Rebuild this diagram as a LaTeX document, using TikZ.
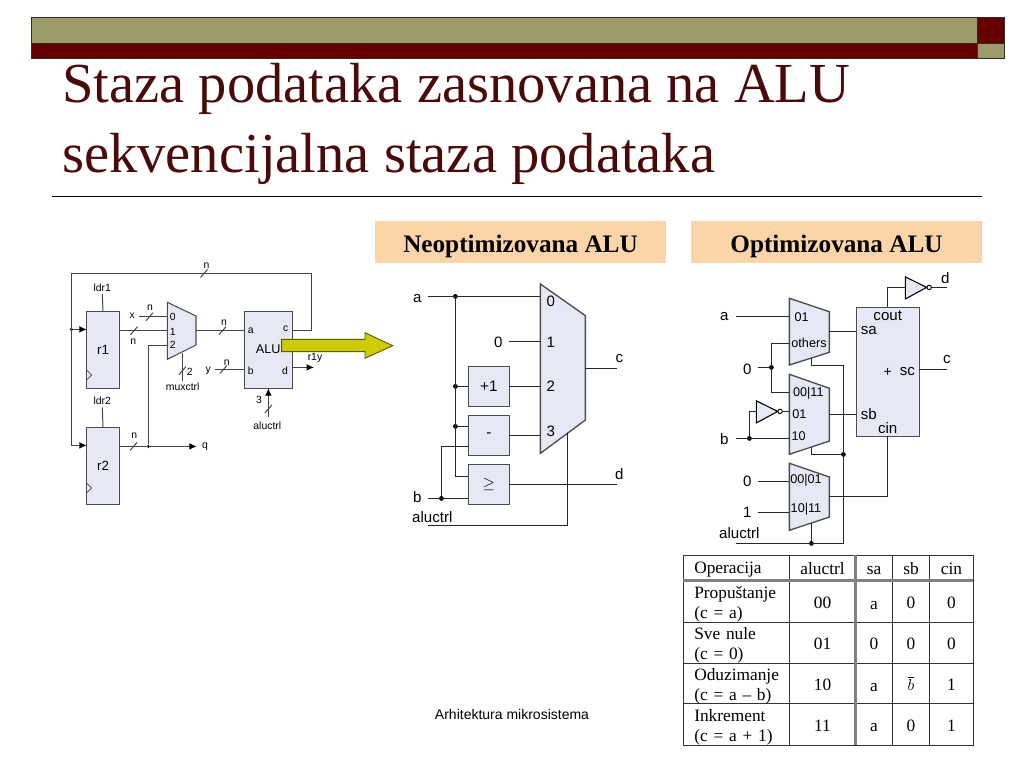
\documentclass[tikz,border=0pt]{standalone}
\usepackage{fontspec}
\setmainfont{Liberation Serif}
\newfontfamily\arial{Liberation Sans}
\usetikzlibrary{arrows.meta}
\definecolor{olive}{HTML}{9C9A68}
\definecolor{maroon}{HTML}{660000}
\definecolor{ttl}{HTML}{4A0A0A}
\definecolor{peach}{HTML}{FBD5A8}
\definecolor{lav}{HTML}{E6E9F5}
\definecolor{yel}{HTML}{CCCC00}
\definecolor{wl}{HTML}{454545}
\definecolor{tg}{HTML}{808080}
\newcounter{tn}
\newcommand\fs[1]{\fontsize{#1}{#1}\selectfont}
% text node: style, x, y, text
\newcommand\tx[4]{\stepcounter{tn}\node[#1] (t\arabic{tn}) at (#2,#3) {#4};}
% box node: style, name, x1,y1,x2,y2 and text
\newcommand\bxn[7]{\node[#1, minimum width={(#5-#3)*0.75pt}, minimum height={(#6-#4)*0.75pt}] (#2) at ({(#3+#5)/2},{(#4+#6)/2}) {#7};}
\newcommand\tick[2]{\draw[lw] (#1-3.5,#2+4) -- (#1+3.5,#2-4);}
\tikzset{
 x=0.75pt,y=-0.75pt,
 lw/.style={draw=wl,line width=0.75pt},
 arr/.style={lw,-{Latex[length=5.5pt,width=5pt,black]}},
 bw/.style={draw=black!85,line width=1pt},
 dotn/.style={circle,fill=black,inner sep=0pt,minimum size=3.6pt},
 sdot/.style={circle,fill=black,inner sep=0pt,minimum size=2.6pt},
 lbox/.style={draw=black!70,line width=0.7pt,fill=lav,inner sep=0pt,outer sep=0pt,font=\arial\fs{10}},
 mbox/.style={draw=black!70,line width=1pt,fill=lav,inner sep=0pt,outer sep=0pt,font=\arial\fs{11.5}},
 mux/.style={draw=black!70,line width=0.8pt,fill=lav},
 s7/.style={inner sep=0pt,font=\arial\fs{7.8}},
 s8/.style={inner sep=0pt,font=\arial\fs{9.5}},
 s11/.style={inner sep=0pt,font=\arial\fs{11.3}},
 s9/.style={inner sep=0pt,font=\arial\fs{10.5}},
 hdr/.style={fill=peach,inner sep=0pt,outer sep=0pt,font=\bfseries\fs{18.9},text height=15pt,text depth=0pt},
 tt/.style={inner sep=0pt,font=\fontsize{13}{15}\selectfont,text height=9pt,text depth=0pt},
 ttl2/.style={inner sep=0pt,font=\fontsize{13}{15}\selectfont,align=left,anchor=west,text width=85pt},
 title/.style={inner sep=0pt,anchor=base west,text=ttl,font=\fs{42.4}},
 tb/.style={draw=black!80,line width=0.7pt},
 tbg/.style={draw=tg,line width=2.2pt},
}
\begin{document}
\begin{tikzpicture}
\useasboundingbox (0,0) rectangle (1024,768);
\fill[white] (0,0) rectangle (1024,768);
% header bars
\draw[fill=olive,draw=black!70!olive,line width=0.6pt] (31,17) rectangle (977.5,43);
\draw[fill=maroon,draw=black!70!olive,line width=0.6pt] (31,43) rectangle (977.5,58);
\draw[fill=maroon,draw=black!70!olive,line width=0.6pt] (977.5,17) rectangle (1004,43);
\draw[fill=olive,draw=black!70!olive,line width=0.6pt] (977.5,43) rectangle (1004,58);
% title
\tx{title}{62}{102}{Staza podataka zasnovana na ALU}
\tx{title}{62}{172}{sekvencijalna staza podataka}
\draw[black,line width=0.75pt] (52,196) -- (982,196);
% column headers
\bxn{hdr}{hn}{375}{221}{666}{263}{Neoptimizovana ALU}
\bxn{hdr}{ho}{691}{221}{982}{263}{Optimizovana ALU}

%%%%%% left diagram
\bxn{lbox}{r1}{86.7}{311.7}{119.3}{388}{r1}
\bxn{lbox}{r2}{86.7}{427}{119.3}{504}{r2}
\bxn{lbox}{alu}{244.3}{311.7}{292.3}{388}{}
\draw[mux] (167.3,302.3) -- (196,316) -- (196,345) -- (167.3,359.3) -- cycle;
\draw[draw=black!70,line width=0.5pt] (86.7,370) -- (91.7,375) -- (86.7,380);
\draw[draw=black!70,line width=0.5pt] (86.7,483) -- (91.7,488) -- (86.7,493);
\coordinate (fbc) at (292.3,330.7);
\coordinate (fbr) at (311.4,330.7);
\coordinate (fbtr) at (311.4,273.4);
\coordinate (fbtl) at (71.4,273.4);
\coordinate (fbb) at (71.4,445.4);
\node[sdot] (fbd) at (71.4,329.4) {};
\coordinate (r1i) at (86.7,329.4);
\coordinate (r2i) at (86.7,445.4);
\draw[lw] (fbc) -- (fbr) -- (fbtr) -- (fbtl) -- (fbb);
\draw[arr] (fbd) -- (r1i);
\draw[arr] (fbb) -- (r2i);
\tick{204}{273.4}
\tx{s7}{206.5}{265.7}{n}
\coordinate (ldr1e) at (102.3,294);
\coordinate (ldr2e) at (102.3,407.3);
\draw[lw] (ldr1e) -- (r1.north);
\draw[lw] (ldr2e) -- (r2.north);
\tx{s7}{102.3}{287.7}{ldr1}
\tx{s7}{102.3}{401}{ldr2}
\coordinate (xs) at (138.5,316.7);
\coordinate (m0) at (167.3,316.7);
\draw[lw] (xs) -- (m0);
\tx{s7}{132.3}{315.7}{x}
\tick{149.5}{316.7}
\tx{s7}{150}{307.7}{n}
\coordinate (r1o) at (119.3,330.7);
\coordinate (m1) at (167.3,330.7);
\draw[lw] (r1o) -- (m1);
\tick{134}{330.7}
\tx{s7}{133.3}{341.7}{n}
\coordinate (r2o) at (119.3,446.4);
\node[sdot] (qd) at (148.4,446.4) {};
\coordinate (qe) at (196.7,446.4);
\coordinate (m2c) at (148.4,345.4);
\coordinate (m2) at (167.3,345.4);
\draw[arr] (r2o) -- (qe);
\draw[lw] (qd) -- (m2c) -- (m2);
\tick{133.5}{446.4}
\tx{s7}{134.3}{435.7}{n}
\tx{s7}{205}{446.7}{q}
\coordinate (mo) at (196,330.7);
\coordinate (alua) at (244.3,330.7);
\draw[lw] (mo) -- (alua);
\tick{222.5}{330.7}
\tx{s7}{224}{322.7}{n}
\coordinate (ys) at (215,369.4);
\coordinate (alub) at (244.3,369.4);
\draw[lw] (ys) -- (alub);
\tx{s7}{208.3}{370.7}{y}
\tick{223.5}{369.4}
\tx{s7}{226.7}{362.3}{n}
\coordinate (mc1) at (182.4,352.7);
\coordinate (mc2) at (182.4,381.3);
\draw[lw] (mc1) -- (mc2);
\tick{182.4}{370.7}
\tx{s7}{189.7}{371.7}{2}
\tx{s7}{182.7}{386.8}{muxctrl}
\tx{s7}{172.7}{317.3}{0}
\tx{s7}{172.7}{331.7}{1}
\tx{s7}{172.7}{345}{2}
\tx{s7}{250.7}{330.7}{a}
\tx{s7}{250.7}{370.7}{b}
\tx{s7}{285.7}{328.7}{c}
\tx{s7}{285}{370.7}{d}
\tx{inner sep=0pt,font=\arial\fs{9.5}}{268.3}{349}{ALU}
\coordinate (dos) at (292.3,367.4);
\coordinate (doe) at (314,367.4);
\draw[arr] (dos) -- (doe);
\tx{s7}{315}{358.3}{r1y}
\coordinate (acs) at (268.4,416.7);
\coordinate (ace) at (268.4,388.3);
\draw[arr] (acs) -- (ace);
\tick{268.4}{409}
\tx{s7}{259}{400}{3}
\tx{s7}{267.3}{425.7}{aluctrl}
% big arrow
\draw[fill=yel,draw=black!55!yel,line width=0.7pt] (281.7,339.3) -- (365,339.3) -- (365,332.7) -- (392.7,345.7) -- (365,358.3) -- (365,351.7) -- (281.7,351.7) -- cycle;

%%%%%% middle diagram
\draw[mux,line width=1pt] (540.4,284) -- (585.4,315.7) -- (585.4,420) -- (540.4,453.3) -- cycle;
\bxn{mbox}{inc}{468.4}{366.4}{509.4}{406.4}{+1}
\bxn{mbox}{sub}{468.4}{415.4}{509.4}{455.4}{-}
\node[mbox,minimum width={41*0.75pt},minimum height={40*0.75pt},font=\fs{12}] (cmp) at (488.9,484.4) {$\geq$};
\coordinate (as) at (428.3,296.4);
\node[dotn] (ad) at (455.4,296.4) {};
\coordinate (mm0) at (540.4,296.4);
\coordinate (zs) at (509.4,341.4);
\coordinate (mm1) at (540.4,341.4);
\coordinate (mm2) at (540.4,386.4);
\coordinate (mm3) at (540.4,435.4);
\node[dotn] (d2) at (455.4,386.4) {};
\node[dotn] (d3) at (455.4,426.4) {};
\coordinate (vb) at (455.4,476.4);
\coordinate (cmpa) at (468.4,476.4);
\coordinate (inci) at (468.4,386.4);
\coordinate (subi) at (468.4,426.4);
\coordinate (inco) at (509.4,386.4);
\coordinate (subo) at (509.4,435.4);
\coordinate (cmpo) at (509.4,484.4);
\coordinate (de) at (616.7,484.4);
\coordinate (bs) at (428.3,498.4);
\node[dotn] (bd) at (441.4,498.4) {};
\coordinate (cmpb) at (468.4,498.4);
\coordinate (bt) at (441.4,446.4);
\coordinate (subb) at (468.4,446.4);
\coordinate (acs2) at (428.3,525.4);
\coordinate (acc2) at (567.4,525.4);
\coordinate (ace2) at (567.4,433.3);
\coordinate (mco) at (585.4,368.4);
\coordinate (ce) at (616.7,368.4);
\draw[bw] (as) -- (mm0);
\draw[bw] (ad) -- (vb) -- (cmpa);
\draw[bw] (zs) -- (mm1);
\draw[bw] (d2) -- (inci);
\draw[bw] (d3) -- (subi);
\draw[bw] (inco) -- (mm2);
\draw[bw] (subo) -- (mm3);
\draw[bw] (cmpo) -- (de);
\draw[bw] (bs) -- (cmpb);
\draw[bw] (bd) -- (bt) -- (subb);
\draw[bw] (acs2) -- (acc2) -- (ace2);
\draw[bw] (mco) -- (ce);
\tx{s11}{417.3}{298.3}{a}
\tx{s11}{498.3}{342.3}{0}
\tx{s11}{417.3}{496.7}{b}
\tx{s11}{432.3}{516.7}{aluctrl}
\tx{s11}{619.3}{359}{c}
\tx{s11}{619.3}{474.3}{d}
\tx{s11}{550.7}{301}{0}
\tx{s11}{550.7}{342.3}{1}
\tx{s11}{550.7}{386.7}{2}
\tx{s11}{550.7}{431.7}{3}

%%%%%% right diagram
\draw[mux,line width=1pt] (789.4,298.3) -- (829.4,311.7) -- (829.4,352.3) -- (789.4,365) -- cycle;
\draw[mux,line width=1pt] (789.4,374.3) -- (829.4,388.3) -- (829.4,441) -- (789.4,454.3) -- cycle;
\draw[mux,line width=1pt] (789.4,463.3) -- (829.4,477) -- (829.4,517) -- (789.4,530.3) -- cycle;
\bxn{mbox}{add}{856.4}{307.4}{919.4}{436.4}{}
\coordinate (ra) at (735.7,316.4);
\coordinate (ma0) at (789.4,316.4);
\coordinate (z1s) at (758.3,367.4);
\node[dotn] (z1d) at (771.4,367.4) {};
\coordinate (vt) at (771.4,343.4);
\coordinate (mao) at (789.4,343.4);
\coordinate (vbb) at (771.4,392.4);
\coordinate (mb0) at (789.4,392.4);
\coordinate (rb) at (735.7,438.4);
\node[dotn] (rbd) at (749.4,438.4) {};
\coordinate (mb2) at (789.4,438.4);
\coordinate (invc) at (749.4,411.4);
\coordinate (invi) at (756.4,411.4);
\coordinate (invo) at (782.4,411.4);
\coordinate (mb1) at (789.4,411.4);
\draw[mux,line width=0.8pt,draw=black] (756.4,400.9) -- (777.7,411.4) -- (756.4,422.9) -- cycle;
\draw[mux,line width=0.7pt,draw=black,fill=white] (780.1,411.4) circle [radius=2.2];
\coordinate (z2s) at (758.3,481.4);
\coordinate (mc0) at (789.4,481.4);
\coordinate (o1s) at (758.3,512.4);
\coordinate (mc1b) at (789.4,512.4);
\coordinate (als) at (735.7,543.4);
\node[dotn] (ald) at (811.4,543.4) {};
\coordinate (alc) at (843.4,543.4);
\coordinate (altop) at (843.4,365.4);
\coordinate (alm) at (811.4,365.4);
\coordinate (mas) at (811.4,357.7);
\node[dotn] (al2) at (843.4,454.4) {};
\coordinate (alb) at (811.4,454.4);
\coordinate (mbs) at (811.4,446.7);
\coordinate (mcs) at (811.4,523.3);
\coordinate (maout) at (829.4,331.4);
\coordinate (sa) at (856.4,331.4);
\coordinate (mbout) at (829.4,414.4);
\coordinate (sb) at (856.4,414.4);
\coordinate (mcout) at (829.4,496.4);
\coordinate (cinc) at (887.4,496.4);
\coordinate (cin) at (887.4,436.4);
\coordinate (cout) at (887.4,307.4);
\coordinate (coutc) at (887.4,287.4);
\coordinate (inv2i) at (905.4,287.4);
\coordinate (inv2o) at (931.5,287.4);
\coordinate (de2) at (946.7,287.4);
\coordinate (sco) at (919.4,369.4);
\coordinate (ce2) at (946.7,369.4);
\draw[mux,line width=0.8pt,draw=black] (905.4,276.9) -- (926.7,287.4) -- (905.4,298.9) -- cycle;
\draw[mux,line width=0.7pt,draw=black,fill=white] (929.2,287.4) circle [radius=2.2];
\draw[bw] (ra) -- (ma0);
\draw[bw] (z1s) -- (z1d);
\draw[bw] (mao) -- (vt) -- (vbb) -- (mb0);
\draw[bw] (rb) -- (mb2);
\draw[bw] (rbd) -- (invc) -- (invi);
\draw[bw] (invo) -- (mb1);
\draw[bw] (z2s) -- (mc0);
\draw[bw] (o1s) -- (mc1b);
\draw[bw] (als) -- (alc) -- (altop) -- (alm) -- (mas);
\draw[bw] (al2) -- (alb) -- (mbs);
\draw[bw] (ald) -- (mcs);
\draw[bw] (maout) -- (sa);
\draw[bw] (mbout) -- (sb);
\draw[bw] (mcout) -- (cinc) -- (cin);
\draw[bw] (cout) -- (coutc) -- (inv2i);
\draw[bw] (inv2o) -- (de2);
\draw[bw] (sco) -- (ce2);
\tx{s11}{724.3}{316.7}{a}
\tx{s11}{747.3}{369}{0}
\tx{s11}{724.3}{439}{b}
\tx{s11}{747.3}{481.7}{0}
\tx{s11}{747.3}{512.3}{1}
\tx{s11}{739.3}{532.7}{aluctrl}
\tx{s8}{801.7}{316.7}{01}
\tx{s8}{809}{343.3}{others}
\tx{s8}{808.3}{393.3}{00|11}
\tx{s8}{799.3}{414}{01}
\tx{s8}{798.7}{436}{10}
\tx{s8}{806}{480.7}{00|01}
\tx{s8}{806}{509}{10|11}
\tx{s11}{887.7}{316}{cout}
\tx{s11}{868.7}{330.7}{sa}
\tx{s9}{887.7}{372.7}{+}
\tx{s11}{907.3}{371.7}{sc}
\tx{s11}{868.7}{414}{sb}
\tx{s11}{887.7}{428.3}{cin}
\tx{s11}{945.3}{278.3}{d}
\tx{s11}{947}{360}{c}

%%%%%% table
\draw[tb] (683.4,555.4) rectangle (973.4,745.4);
\foreach \yy in {622.4,663.4,703.4} \draw[tb] (683.4,\yy) -- (973.4,\yy);
\foreach \xx in {789.4,892.4,929.4} \draw[tb] (\xx,555.4) -- (\xx,745.4);
\draw[tbg] (683.4,580.7) -- (973.4,580.7);
\draw[tbg] (855.7,555.4) -- (855.7,745.4);
\tx{ttl2}{694}{570}{Operacija}
\tx{tt}{822.5}{568}{aluctrl}
\tx{tt}{874}{568}{sa}
\tx{tt}{911}{568}{sb}
\tx{tt}{951.5}{568}{cin}
\tx{ttl2}{694}{604.5}{Propuštanje\\(c = a)}
\tx{ttl2}{694}{645}{Sve nule\\(c = 0)}
\tx{ttl2}{694}{686}{Oduzimanje\\(c = a – b)}
\tx{ttl2}{694}{727}{Inkrement\\(c = a + 1)}
\tx{tt}{822.5}{602}{00}
\tx{tt}{822.5}{643}{01}
\tx{tt}{822.5}{684}{10}
\tx{tt}{822.5}{725}{11}
\tx{tt}{874}{603}{a}
\tx{tt}{874}{643}{0}
\tx{tt}{874}{685}{a}
\tx{tt}{874}{725}{a}
\tx{tt}{911}{602}{0}
\tx{tt}{911}{643}{0}
\tx{tt}{911}{684}{$\overline{b}$}
\tx{tt}{911}{725}{0}
\tx{tt}{951.5}{602}{0}
\tx{tt}{951.5}{643}{0}
\tx{tt}{951.5}{684}{1}
\tx{tt}{951.5}{725}{1}
% footer
\tx{inner sep=0pt,font=\arial\fs{10.5}}{512}{714}{Arhitektura mikrosistema}
\end{tikzpicture}
\end{document}
